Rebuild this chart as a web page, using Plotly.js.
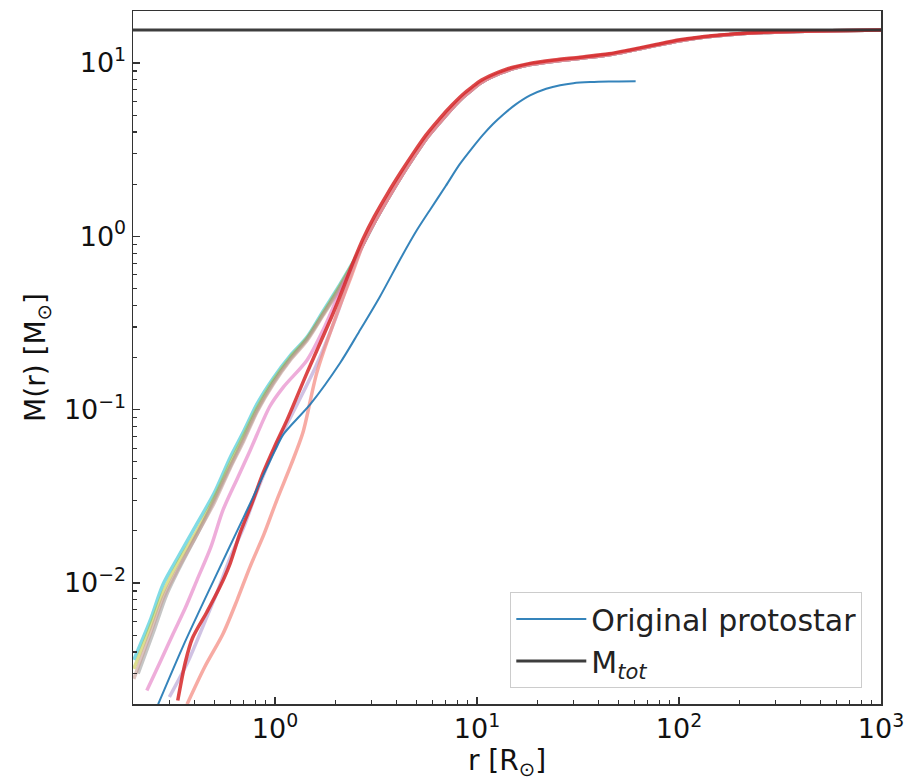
<!DOCTYPE html>
<html>
<head>
<meta charset="utf-8">
<script src="https://cdn.plot.ly/plotly-3.0.1.min.js"></script>
<style>html,body{margin:0;padding:0;background:#fff;}#chart{width:910px;height:781px;}</style>
</head>
<body>
<div id="chart"></div>
<script>
// ---- data ----
const Mtot = 15.5;
const protoR = [0.264, 0.35, 0.5, 0.7, 1.0, 1.1, 1.5, 2.1, 2.6, 3.3, 4.2, 5.05, 5.85, 7.0, 8.2, 9.5, 10.7, 12, 13.5, 15.5, 18.3, 22, 25.8, 30, 36.3, 45, 61];
const protoM = [0.002, 0.0043, 0.0105, 0.024, 0.058, 0.072, 0.108, 0.186, 0.28, 0.447, 0.75, 1.09, 1.42, 1.95, 2.6, 3.25, 3.85, 4.45, 5.05, 5.75, 6.5, 7.1, 7.45, 7.65, 7.76, 7.82, 7.85];

// outer profile shared by the merged relaxed-star curves
const outerR  = [2.73, 3.1, 3.6, 4.2, 4.82, 5.6, 6.5, 7.5, 8.53, 9.5, 10.4, 11.5, 12.6, 14, 15.1, 18.3, 24, 32.4, 45, 57, 75, 101, 150, 217, 320, 462, 700, 1000];
const outerM  = [0.97, 1.3, 1.76, 2.35, 3.0, 3.85, 4.75, 5.7, 6.6, 7.3, 7.9, 8.4, 8.8, 9.2, 9.45, 9.95, 10.4, 10.8, 11.3, 11.9, 12.7, 13.6, 14.4, 14.9, 15.15, 15.3, 15.4, 15.5];
const outerM2 = [0.9, 1.2, 1.63, 2.2, 2.82, 3.65, 4.5, 5.45, 6.35, 7.05, 7.65, 8.2, 8.6, 9.0, 9.3, 9.8, 10.25, 10.65, 11.15, 11.75, 12.55, 13.45, 14.3, 14.85, 15.1, 15.28, 15.4, 15.5];

const cyanR  = [0.2, 0.24, 0.279, 0.33, 0.411, 0.5, 0.6, 0.7, 0.815, 0.98, 1.19, 1.44, 1.73, 2.1];
const cyanM  = [0.0036, 0.0060, 0.0098, 0.014, 0.022, 0.033, 0.053, 0.075, 0.108, 0.152, 0.205, 0.262, 0.37, 0.53];
const oliveR = [0.2, 0.24, 0.279, 0.33, 0.411, 0.5, 0.6, 0.7, 0.815, 0.98, 1.19, 1.44, 1.73, 2.1];
const oliveM = [0.0032, 0.0055, 0.0088, 0.013, 0.020, 0.031, 0.049, 0.071, 0.102, 0.147, 0.200, 0.258, 0.36, 0.52];
const greyR  = [0.21, 0.25, 0.29, 0.34, 0.42, 0.5, 0.6, 0.7, 0.815, 0.98, 1.19, 1.44, 1.73, 2.1];
const greyM  = [0.0030, 0.0052, 0.0085, 0.0125, 0.020, 0.030, 0.047, 0.068, 0.099, 0.143, 0.196, 0.255, 0.355, 0.51];
const brownR = [0.2, 0.24, 0.28, 0.33, 0.41, 0.5, 0.6, 0.7, 0.815, 0.98, 1.19, 1.44, 1.73, 2.1];
const brownM = [0.0028, 0.0050, 0.0082, 0.012, 0.019, 0.029, 0.046, 0.066, 0.097, 0.140, 0.193, 0.25, 0.35, 0.50];
const pinkR  = [0.232, 0.27, 0.313, 0.36, 0.411, 0.48, 0.553, 0.65, 0.752, 0.945, 1.1, 1.44, 1.73, 2.1];
const pinkM  = [0.0024, 0.0035, 0.0051, 0.0072, 0.0104, 0.016, 0.0264, 0.040, 0.058, 0.105, 0.135, 0.193, 0.288, 0.48];
const purpR  = [0.3, 0.37, 0.45, 0.52, 0.6, 0.7, 0.8, 1.0, 1.3, 1.6, 2.0, 2.35];
const purpM  = [0.0022, 0.0035, 0.0060, 0.0090, 0.0140, 0.021, 0.032, 0.060, 0.11, 0.18, 0.34, 0.58];
const redR   = [0.33, 0.36, 0.39, 0.46, 0.534, 0.6, 0.671, 0.77, 0.872, 1.0, 1.146, 1.44, 1.94, 2.2, 2.45];
const redM   = [0.0021, 0.0035, 0.0048, 0.0068, 0.0095, 0.013, 0.0194, 0.029, 0.043, 0.062, 0.087, 0.163, 0.36, 0.52, 0.72];
const salmR  = [0.367, 0.45, 0.553, 0.65, 0.752, 0.88, 1.02, 1.2, 1.376, 1.61, 2.03, 2.4];
const salmM  = [0.002, 0.0033, 0.0051, 0.0080, 0.0124, 0.019, 0.030, 0.048, 0.074, 0.163, 0.36, 0.6];

const xTickVals = [1, 10, 100, 1000];
const xTickText = ['10<sup>0</sup>', '10<sup>1</sup>', '10<sup>2</sup>', '10<sup>3</sup>'];
const yTickVals = [0.01, 0.1, 1, 10];
const yTickText = ['10<sup>−2</sup>', '10<sup>−1</sup>', '10<sup>0</sup>', '10<sup>1</sup>'];

// ---- build traces ----
function minorVals(lo, hi) {
  const v = [];
  for (let e = lo; e <= hi; e++) for (let k = 2; k <= 9; k++) v.push(k * Math.pow(10, e));
  return v;
}
function relaxed(r, m, outM, color, width, opacity) {
  return {
    x: r.concat(outerR), y: m.concat(outM), type: 'scatter', mode: 'lines',
    line: {color: color, width: width, shape: 'spline', smoothing: 0.8},
    opacity: opacity, showlegend: false, hoverinfo: 'skip'
  };
}
const traces = [
  relaxed(cyanR, cyanM, outerM2, '#17becf', 3.5, 0.55),
  relaxed(oliveR, oliveM, outerM2, '#bcbd22', 3.5, 0.5),
  relaxed(greyR, greyM, outerM2, '#7f7f7f', 3.5, 0.45),
  relaxed(brownR, brownM, outerM2, '#c49c94', 3.5, 0.6),
  relaxed(pinkR, pinkM, outerM2, '#e377c2', 3.5, 0.6),
  relaxed(purpR, purpM, outerM2, '#b09ad0', 3.5, 0.6),
  relaxed(salmR, salmM, outerM2, '#f4877d', 3.5, 0.7),
  relaxed(redR, redM, outerM, '#d62728', 3.5, 0.85),
  {x: protoR, y: protoM, type: 'scatter', mode: 'lines', name: 'Original protostar',
   line: {color: '#1f77b4', width: 2, shape: 'spline', smoothing: 0.8}, opacity: 0.9},
  {x: [0.19, 1000], y: [Mtot, Mtot], type: 'scatter', mode: 'lines', name: 'M<i><sub>tot</sub></i>',
   line: {color: '#333333', width: 3}, opacity: 0.95}
];

const axisCommon = {
  type: 'log', showgrid: false, zeroline: false,
  showline: true, linecolor: '#333', linewidth: 1.5, mirror: true,
  ticks: 'inside', ticklen: 7, tickwidth: 1.2, tickcolor: '#333',
  tickfont: {family: 'DejaVu Sans, sans-serif', size: 27, color: '#111'},
  tickmode: 'array'
};
const layout = {
  width: 910, height: 781,
  margin: {l: 133, r: 29, t: 11, b: 77},
  paper_bgcolor: '#fff', plot_bgcolor: '#fff',
  font: {family: 'DejaVu Sans, sans-serif', color: '#111'},
  xaxis: Object.assign({}, axisCommon, {
    range: [-0.703, 3], tickvals: xTickVals, ticktext: xTickText,
    minor: {tickvals: minorVals(-1, 2), ticks: 'inside', ticklen: 4, tickcolor: '#333'},
    title: {text: 'r [R<sub>⊙</sub>]', font: {size: 28}, standoff: 4}
  }),
  yaxis: Object.assign({}, axisCommon, {
    range: [-2.698, 1.3], tickvals: yTickVals, ticktext: yTickText,
    minor: {tickvals: minorVals(-3, 1), ticks: 'inside', ticklen: 4, tickcolor: '#333'},
    title: {text: 'M(r) [M<sub>⊙</sub>]', font: {size: 28}, standoff: 10}
  }),
  showlegend: true,
  legend: {
    x: 0.975, y: 0.023, xanchor: 'right', yanchor: 'bottom',
    bgcolor: 'rgba(255,255,255,0.9)', bordercolor: '#cccccc', borderwidth: 1,
    font: {size: 30, family: 'DejaVu Sans, sans-serif', color: '#222'},
    itemwidth: 70, tracegroupgap: 6
  }
};
Plotly.newPlot('chart', traces, layout, {displayModeBar: false, staticPlot: true});
</script>
</body>
</html>
